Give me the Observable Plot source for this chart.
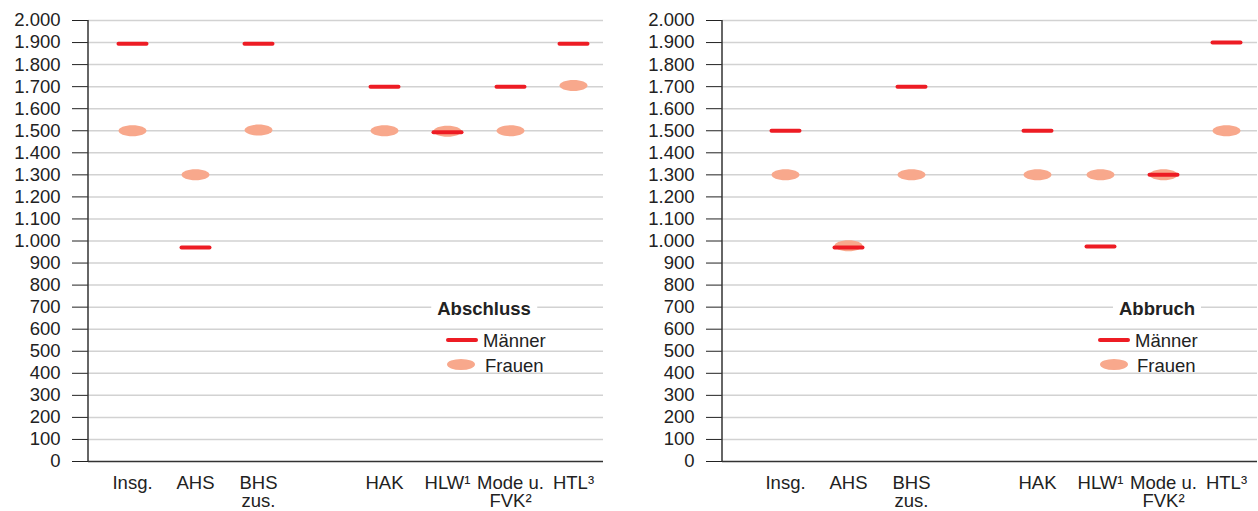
<!DOCTYPE html>
<html>
<head>
<meta charset="utf-8">
<script src="https://cdn.jsdelivr.net/npm/d3@7"></script>
<script src="https://cdn.jsdelivr.net/npm/@observablehq/plot@0.6"></script>
<style>
  body { margin: 0; background: #fff; font-family: "Liberation Sans", Arial, sans-serif; }
  #wrap { position: relative; width: 1258px; height: 511px; display: flex; }
  .lg { position: absolute; font-size: 18.5px; color: #222; line-height: 20px; white-space: nowrap; }
  .ttl { font-weight: bold; background: #fff; padding: 0 6px; transform: translate(-50%, -50%); }
  .txt { transform: translateY(-50%); }
  .dash { position: absolute; height: 4px; width: 32px; background: #ed1c24; border-radius: 2px; }
  .ell { position: absolute; height: 11px; width: 28px; background: #f8a88c; border-radius: 50%; }
</style>
</head>
<body>
<div id="wrap"></div>
<script>
// ---- data ----
const axisCategories = ["Insg.", "AHS", "BHS\nzus.", " ", "HAK", "HLW¹", "Mode u.\nFVK²", "HTL³"];
const categories = ["Insg.", "AHS", "BHS\nzus.", "HAK", "HLW¹", "Mode u.\nFVK²", "HTL³"];
const abschlussMaenner = [1895, 970, 1895, 1700, 1493, 1700, 1895];
const abschlussFrauen  = [1500, 1300, 1503, 1500, 1498, 1500, 1705];
const abbruchMaenner   = [1500, 970, 1700, 1500, 975, 1300, 1900];
const abbruchFrauen    = [1300, 978, 1300, 1300, 1300, 1300, 1500];
const yTicks = d3.range(0, 2001, 100);

const red = "#ed1c24", salmon = "#f8a88c";
const fmt = d3.formatLocale({decimal: ",", thousands: ".", grouping: [3]}).format(",");

const ellipseSymbol = {
  draw(ctx) {
    const rx = 14, ry = 5.5, k = 0.5523;
    ctx.moveTo(rx, 0);
    ctx.bezierCurveTo(rx, ry * k, rx * k, ry, 0, ry);
    ctx.bezierCurveTo(-rx * k, ry, -rx, ry * k, -rx, 0);
    ctx.bezierCurveTo(-rx, -ry * k, -rx * k, -ry, 0, -ry);
    ctx.bezierCurveTo(rx * k, -ry, rx, -ry * k, rx, 0);
    ctx.closePath();
  }
};
const dashSymbol = {
  draw(ctx) { ctx.moveTo(-14, 0); ctx.lineTo(14, 0); }
};

function leftLine(index, scales, values, dims) {
  const l = document.createElementNS("http://www.w3.org/2000/svg", "line");
  l.setAttribute("x1", dims.marginLeft); l.setAttribute("x2", dims.marginLeft);
  l.setAttribute("y1", dims.marginTop); l.setAttribute("y2", dims.height - dims.marginBottom);
  l.setAttribute("stroke", "#333"); l.setAttribute("stroke-width", 1.5);
  return l;
}

function panel(men, women, width, marginLeft, marginRight, xRange) {
  const rows = categories.map((c, i) => ({c, m: men[i], f: women[i]}));
  return Plot.plot({
    width, height: 511,
    marginTop: 20, marginBottom: 50, marginLeft, marginRight,
    style: {fontFamily: "Liberation Sans, Arial, sans-serif", fontSize: "18.5px", color: "#222", background: "#fff"},
    x: {type: "point", domain: axisCategories, range: xRange, padding: 0, tickSize: 0, tickPadding: 14, label: null},
    y: {domain: [0, 2000], ticks: yTicks, tickFormat: fmt, tickSize: 16, tickPadding: 12, label: null},
    marks: [
      Plot.ruleY(yTicks.filter(d => d > 0), {stroke: "#d2d2d2", strokeWidth: 1.5}),
      Plot.ruleY([0], {stroke: "#333", strokeWidth: 1.5}),
      leftLine,
      Plot.dot(rows, {x: "c", y: "f", symbol: ellipseSymbol, fill: salmon, stroke: "none"}),
      Plot.dot(rows, {x: "c", y: "m", symbol: dashSymbol, fill: "none", stroke: red, strokeWidth: 4, strokeLinecap: "round"})
    ]
  });
}

const wrap = document.getElementById("wrap");
wrap.append(panel(abschlussMaenner, abschlussFrauen, 630, 88, 27, [130, 575.5]));
wrap.append(panel(abbruchMaenner, abbruchFrauen, 628, 92, 1, [152.5, 598.5]));

function legend(title, cx, lineX, textX, ellX, ftextX) {
  const add = (html, cls, style) => {
    const d = document.createElement("div");
    d.className = cls; d.textContent = html; Object.assign(d.style, style); wrap.append(d);
  };
  add(title, "lg ttl", {left: cx + "px", top: "309px"});
  add("", "dash", {left: lineX + "px", top: "338px"});
  add("Männer", "lg txt", {left: textX + "px", top: "341px"});
  add("", "ell", {left: ellX + "px", top: "359px"});
  add("Frauen", "lg txt", {left: ftextX + "px", top: "366px"});
}
legend("Abschluss", 484, 446, 483, 447, 485);
legend("Abbruch", 1157, 1098, 1135, 1100, 1137);
</script>
</body>
</html>
